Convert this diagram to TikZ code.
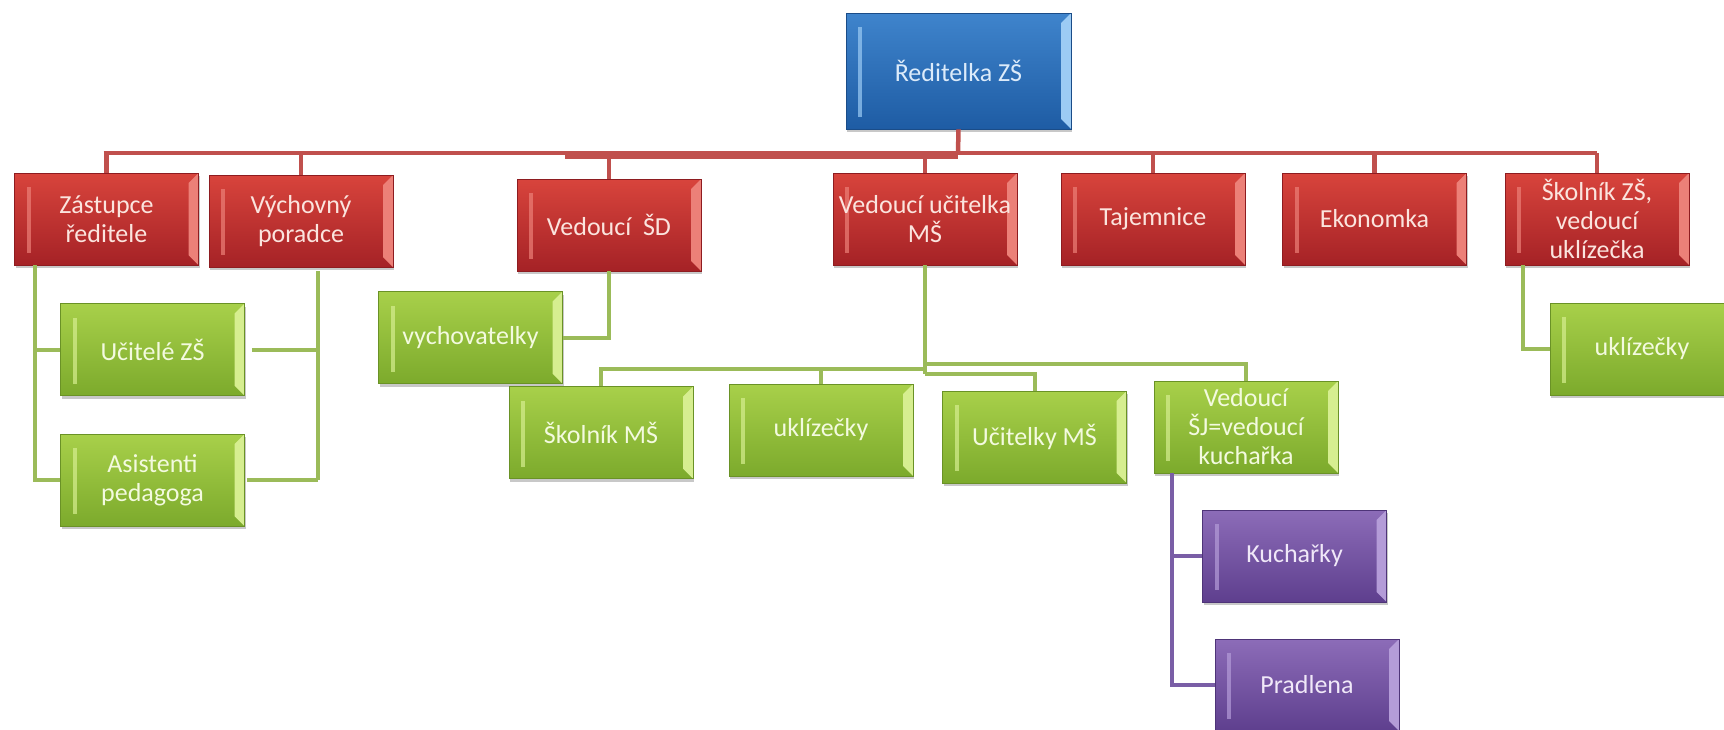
\documentclass[tikz,border=0pt]{standalone}
\usepackage{fontspec}
\setmainfont{Carlito}
\usetikzlibrary{shadows}
\definecolor{RedT}{HTML}{D8443C}
\definecolor{RedB}{HTML}{A52226}
\definecolor{RedD}{HTML}{8E1C20}
\definecolor{RedL}{HTML}{EC8078}
\definecolor{RedTx}{HTML}{FBE4DE}
\definecolor{BlueT}{HTML}{3F84CC}
\definecolor{BlueB}{HTML}{1E5CA4}
\definecolor{BlueD}{HTML}{1A4C88}
\definecolor{BlueL}{HTML}{9CCBF4}
\definecolor{BlueTx}{HTML}{DCEBFA}
\definecolor{GrnT}{HTML}{A8D04A}
\definecolor{GrnB}{HTML}{7CAA2C}
\definecolor{GrnD}{HTML}{6A9226}
\definecolor{GrnL}{HTML}{D6EE90}
\definecolor{GrnTx}{HTML}{F3FADF}
\definecolor{PurT}{HTML}{8C6CB8}
\definecolor{PurB}{HTML}{5E3F8E}
\definecolor{PurD}{HTML}{4E3478}
\definecolor{PurL}{HTML}{B49CD8}
\definecolor{PurTx}{HTML}{F0E8F8}
\definecolor{RedLine}{HTML}{C0504D}
\definecolor{GrnLine}{HTML}{9BBB59}
\definecolor{PurLine}{HTML}{7A5EA6}
\tikzset{
  bevel/.style={path picture={
    \fill[#1] (path picture bounding box.north east)
      -- ([xshift=-10pt,yshift=-10pt]path picture bounding box.north east)
      -- ([xshift=-10pt,yshift=10pt]path picture bounding box.south east)
      -- (path picture bounding box.south east) -- cycle;
    \fill[#1,opacity=0.7] ([xshift=12pt,yshift=-14pt]path picture bounding box.north west)
      rectangle ([xshift=16pt,yshift=12pt]path picture bounding box.south west);
  }},
  box/.style={rectangle, minimum width=184pt, minimum height=92pt, inner sep=0pt,
    align=center, font=\fontsize{26}{29}\selectfont, line width=0.8pt,
    drop shadow={shadow xshift=1pt, shadow yshift=-3pt, opacity=0.3, fill=black!70}},
  redbox/.style={box, top color=RedT, bottom color=RedB, draw=RedD, text=RedTx, bevel=RedL},
  bluebox/.style={box, top color=BlueT, bottom color=BlueB, draw=BlueD, text=BlueTx, bevel=BlueL},
  greenbox/.style={box, top color=GrnT, bottom color=GrnB, draw=GrnD, text=GrnTx, bevel=GrnL},
  purplebox/.style={box, top color=PurT, bottom color=PurB, draw=PurD, text=PurTx, bevel=PurL},
  redline/.style={draw=RedLine, line width=4.5pt},
  greenline/.style={draw=GrnLine, line width=4pt},
  purpleline/.style={draw=PurLine, line width=4pt},
}
\begin{document}
\begin{tikzpicture}[x=1pt,y=-1pt]
\useasboundingbox (0,0) rectangle (1724,729);
\clip (0,0) rectangle (1724,729);
\fill[white] (0,0) rectangle (1724,729);

% coordinates for buses
\coordinate (rbus) at (958,153);
\coordinate (rbus2a) at (565,157);
\coordinate (rbus2b) at (958,157);
\coordinate (zl) at (35,265);
\coordinate (vl) at (318,271);
\coordinate (gA) at (925,364);
\coordinate (gB) at (925,369);
\coordinate (gC) at (925,374);
\coordinate (sl) at (1523,265);
\coordinate (pl) at (1172,473);

% nodes
\node[bluebox, minimum width=225pt, minimum height=116pt] (top) at (958.5,71) {Ředitelka ZŠ};

\node[redbox] (zast) at (106.5,219) {Zástupce\\ředitele};
\node[redbox] (vych) at (301,221) {Výchovný\\poradce};
\node[redbox] (vsd) at (609,225) {Vedoucí~ ŠD};
\node[redbox] (vum) at (925,219) {Vedoucí učitelka\\MŠ};
\node[redbox] (taj) at (1153,219) {Tajemnice};
\node[redbox] (eko) at (1374.5,219) {Ekonomka};
\node[redbox] (skzs) at (1597,219) {Školník ZŠ,\\vedoucí\\uklízečka};

\node[greenbox] (ucz) at (152.5,349.5) {Učitelé ZŠ};
\node[greenbox] (asi) at (152.5,480) {Asistenti\\pedagoga};
\node[greenbox] (vyc) at (470.5,337.5) {vychovatelky};
\node[greenbox] (skms) at (601,432.5) {Školník MŠ};
\node[greenbox] (ukl1) at (821,430) {uklízečky};
\node[greenbox] (ucms) at (1034.5,437) {Učitelky MŠ};
\node[greenbox] (vsj) at (1246,427) {Vedoucí\\ŠJ=vedoucí\\kuchařka};
\node[greenbox] (ukl2) at (1642,349) {uklízečky};

\node[purplebox] (kuch) at (1294.5,556) {Kuchařky};
\node[purplebox] (prad) at (1307,685) {Pradlena};

% red connectors
\draw[redline] (top.south) -- (rbus);
\draw[redline] ([xshift=-3pt]zast.north |- rbus) -- (skzs.north |- rbus);
\draw[redline] (rbus2a) -- (rbus2b);
\foreach \n in {zast,vych,vsd,vum,taj,eko,skzs}
  \draw[redline] (\n.north) -- (\n.north |- rbus);

% green connectors
\draw[greenline] (zl) |- (asi.west);
\draw[greenline] (zl |- ucz.west) -- (ucz.west);
\draw[greenline] (vl) -- (vl |- asi.east);
\draw[greenline] ([xshift=7pt]ucz.east) -- (vl |- ucz.east);
\draw[greenline] ([xshift=2pt]asi.east) -- (vl |- asi.east);
\draw[greenline] (vsd.south) |- (vyc.east);
\draw[greenline] (vum.south) -- (gC);
\draw[greenline] (gA) -| (vsj.north);
\draw[greenline] (gB) -| (skms.north);
\draw[greenline] (ukl1.north) -- (ukl1.north |- gB);
\draw[greenline] (gC) -| (ucms.north);
\draw[greenline] (sl) |- (ukl2.west);

% purple connectors
\draw[purpleline] (pl) |- (prad.west);
\draw[purpleline] (pl |- kuch.west) -- (kuch.west);
\end{tikzpicture}
\end{document}
